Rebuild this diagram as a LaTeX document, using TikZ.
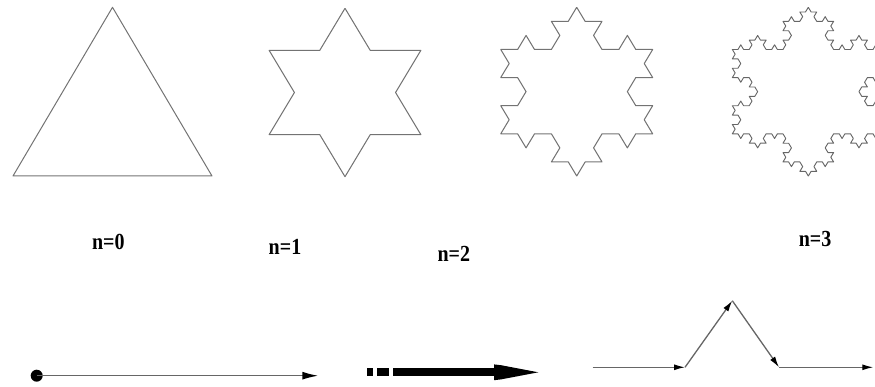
\documentclass[tikz,border=0pt]{standalone}
\usepackage{fontspec}
\setmainfont{Liberation Serif}
\usepackage{graphicx}
\usetikzlibrary{decorations.fractals,arrows.meta}
\begin{document}
\begin{tikzpicture}[x=1pt,y=1pt,
  flake/.style={draw=black!55, line width=1pt, line join=round},
  lbl/.style={font=\bfseries\fontsize{20}{24}\selectfont, anchor=base, inner sep=0pt},
  gen/.style={draw=black!60, line width=1.3pt, -{Latex[length=11pt,width=6pt,color=black]}},
  thin arrow/.style={draw=black!60, line width=1.5pt, -{Latex[length=16pt,width=8pt,color=black]}}]
\useasboundingbox (0,0) rectangle (875,386);
\clip (0,0) rectangle (875,386);
% n = 0
\coordinate (t0a) at (112.5,378.7);
\coordinate (t0b) at (212,210);
\coordinate (t0c) at (13,210);
\draw[flake] (t0a) -- (t0b) -- (t0c) -- cycle;
% n = 1
\begin{scope}[transform canvas={shift={(345,293.5)},xscale=1.04}]
\draw[flake, decoration=Koch snowflake] decorate{(0,84.2) -- (72.92,-42.1) -- (-72.92,-42.1) -- (0,84.2)};
\end{scope}
% n = 2
\begin{scope}[transform canvas={shift={(576.7,294.35)},xscale=1.04}]
\draw[flake, decoration=Koch snowflake] decorate{decorate{(0,84.35) -- (73.05,-42.175) -- (-73.05,-42.175) -- (0,84.35)}};
\end{scope}
% n = 3
\begin{scope}[transform canvas={shift={(808.3,294.35)},xscale=1.04}]
\draw[flake, line width=0.9pt, draw=black!60, decoration=Koch snowflake] decorate{decorate{decorate{(0,84.35) -- (73.05,-42.175) -- (-73.05,-42.175) -- (0,84.35)}}};
\end{scope}
% labels
\node[lbl] (l0) at (108.3,136) {\scalebox{1}[1.15]{n=0}};
\node[lbl] (l1) at (285,131.7) {\scalebox{1}[1.15]{n=1}};
\node[lbl] (l2) at (453.8,124.3) {\scalebox{1}[1.15]{n=2}};
\node[lbl] (l3) at (815,139.3) {\scalebox{1}[1.15]{n=3}};
% bottom: segment with dot
\coordinate (d0) at (36.7,10.3);
\coordinate (d1) at (318.3,10.3);
\fill (d0) circle (6);
\draw[thin arrow] (d0) -- (d1);
% bottom: thick arrow
\fill (366.7,9.7) rectangle (372.7,17.7);
\fill (376.7,9.7) rectangle (389.3,17.7);
\fill (393.3,9.7) rectangle (495,17.7);
\fill (494,21.6) -- (501,20.8) -- (538.3,13.7) -- (501,6.6) -- (494,5.8) -- cycle;
% bottom: generator
\coordinate (gA) at (592.7,18.7);
\coordinate (gB) at (685,18.7);
\coordinate (gC) at (732.3,85.3);
\coordinate (gD) at (779,18.7);
\coordinate (gE) at (873.3,18.7);
\draw[gen] (gA) -- (gB);
\draw[gen] (gB) -- (gC);
\draw[gen] (gC) -- (gD);
\draw[gen] (gD) -- (gE);
\end{tikzpicture}
\end{document}
